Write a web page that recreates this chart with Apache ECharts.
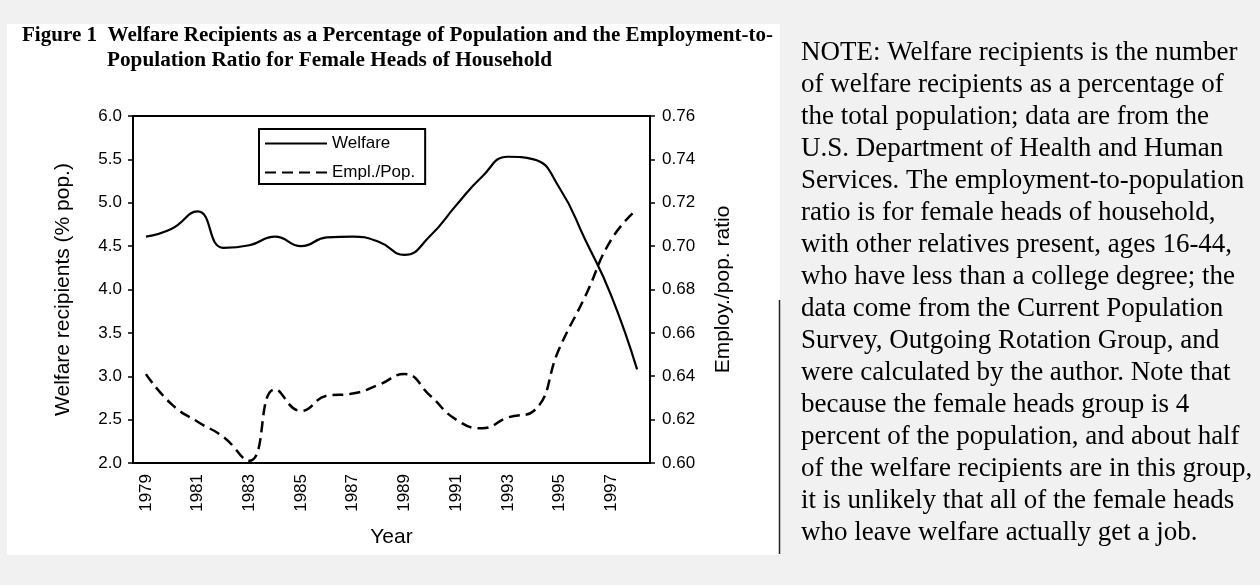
<!DOCTYPE html>
<html><head><meta charset="utf-8">
<script src="https://cdn.jsdelivr.net/npm/echarts@6/dist/echarts.min.js"></script>
<style>html,body{margin:0;padding:0;background:#f1f1f1;}#c{width:1260px;height:585px;}</style>
</head><body><div id="c"></div>
<script>
// ---- data ----
const years = ['1979','1980','1981','1982','1983','1984','1985','1986','1987','1988',
               '1989','1990','1991','1992','1993','1994','1995','1996','1997','1998'];
const welfare = [4.61,4.70,4.90,4.48,4.51,4.61,4.50,4.60,4.61,4.55,
                 4.40,4.62,4.97,5.30,5.53,5.50,5.17,4.57,3.93,3.08];
const emplPop = [0.641,0.627,0.619,0.612,0.601,0.634,0.624,0.631,0.632,0.636,
                 0.641,0.631,0.620,0.616,0.621,0.624,0.653,0.677,0.703,0.717];
const seriesNames = ['Welfare','Empl./Pop.'];
const titleLines = ['Figure 1  Welfare Recipients as a Percentage of Population and the Employment-to-',
                    'Population Ratio for Female Heads of Household'];
const noteLines = [
 'NOTE: Welfare recipients is the number',
 'of welfare recipients as a percentage of',
 'the total population; data are from the',
 'U.S. Department of Health and Human',
 'Services. The employment-to-population',
 'ratio is for female heads of household,',
 'with other relatives present, ages 16-44,',
 'who have less than a college degree; the',
 'data come from the Current Population',
 'Survey, Outgoing Rotation Group, and',
 'were calculated by the author. Note that',
 'because the female heads group is 4',
 'percent of the population, and about half',
 'of the welfare recipients are in this group,',
 'it is unlikely that all of the female heads',
 'who leave welfare actually get a job.'
];

// ---- layout helpers ----
const SANS = 'Liberation Sans, Arial, sans-serif';
const SERIF = 'Liberation Serif, Times New Roman, serif';
const mctx = document.createElement('canvas').getContext('2d');
function fitScale(text, font, target){ mctx.font = font; return target / mctx.measureText(text).width; }
const titleFont = 'bold 20px ' + SERIF;
const s1 = fitScale(titleLines[0], titleFont, 751);
const s2 = fitScale(titleLines[1], titleFont, 445);

const chart = echarts.init(document.getElementById('c'), null, {renderer:'canvas'});
const axisLineStyle = {color:'#000', width:2};
const nameStyle = {fontSize:21, color:'#000', fontFamily:SANS};
chart.setOption({
  backgroundColor:'#f1f1f1',
  animation:false,
  graphic:[
    {type:'rect', left:7, top:24, z:-10, shape:{width:773, height:531}, style:{fill:'#fff'}},
    {type:'line', shape:{x1:779.5,y1:300,x2:779.5,y2:554}, style:{stroke:'#222', lineWidth:1.5}},
    {type:'text', x:22, y:36, scaleX:s1, style:{text:titleLines[0], font:titleFont, fill:'#000', verticalAlign:'middle'}},
    {type:'text', x:107, y:61, scaleX:s2, style:{text:titleLines[1], font:titleFont, fill:'#000', verticalAlign:'middle'}},
    {type:'text', x:801, y:37, style:{text:noteLines.join('\n'), font:'27px '+SERIF, lineHeight:32, fill:'#000', verticalAlign:'top'}}
  ],
  grid:{left:133, right:610, top:116, bottom:122, show:true, borderColor:'#000', borderWidth:2, containLabel:false},
  legend:{
    left:259, top:129, orient:'vertical', selectedMode:false,
    itemWidth:62, itemHeight:14, itemGap:12, padding:[6,10,3,5],
    borderColor:'#000', borderWidth:2, backgroundColor:'#fff',
    itemStyle:{color:'rgba(0,0,0,0)', borderWidth:0, opacity:0},
    textStyle:{fontFamily:SANS, fontSize:17, color:'#000'},
    data:seriesNames
  },
  xAxis:{
    type:'category', data:years, boundaryGap:true,
    axisLine:{lineStyle:axisLineStyle},
    axisTick:{interval:0, length:4, lineStyle:{color:'#000', width:1.5}},
    axisLabel:{interval:1, rotate:90, margin:11, fontSize:17, color:'#000', fontFamily:SANS},
    splitLine:{show:false},
    name:'Year', nameLocation:'middle', nameGap:64, nameTextStyle:nameStyle
  },
  yAxis:[
    {type:'value', min:2, max:6, interval:0.5, position:'left',
     axisLine:{show:true, lineStyle:axisLineStyle},
     axisTick:{show:true, length:5, lineStyle:{color:'#000', width:1.5}},
     axisLabel:{margin:11, fontSize:17, color:'#000', fontFamily:SANS, formatter:v=>v.toFixed(1)},
     splitLine:{show:false},
     name:'Welfare recipients (% pop.)', nameLocation:'middle', nameRotate:90, nameGap:59, nameTextStyle:nameStyle},
    {type:'value', min:0.6, max:0.76, interval:0.02, position:'right',
     axisLine:{show:true, lineStyle:axisLineStyle},
     axisTick:{show:true, length:5, lineStyle:{color:'#000', width:1.5}},
     axisLabel:{margin:12, fontSize:17, color:'#000', fontFamily:SANS, formatter:v=>v.toFixed(2)},
     splitLine:{show:false},
     name:'Employ./pop. ratio', nameLocation:'middle', nameRotate:90, nameGap:63, nameTextStyle:nameStyle}
  ],
  series:[
    {name:seriesNames[0], type:'line', yAxisIndex:0, data:welfare, smooth:0.5, symbol:'none',
     lineStyle:{color:'#000', width:2.2}, itemStyle:{color:'#000'}},
    {name:seriesNames[1], type:'line', yAxisIndex:1, data:emplPop, smooth:0.5, symbol:'none',
     lineStyle:{color:'#000', width:2.5, type:[11,6]}, itemStyle:{color:'#000'}}
  ]
});
</script></body></html>
